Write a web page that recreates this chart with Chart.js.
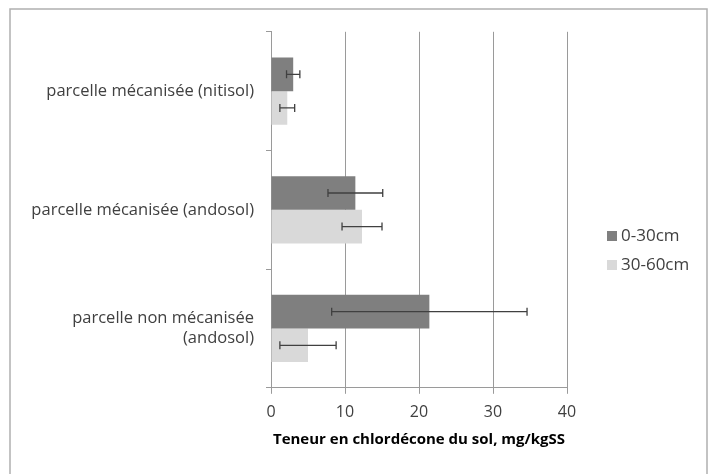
<!DOCTYPE html>
<html>
<head>
<meta charset="utf-8">
<script src="https://cdn.jsdelivr.net/npm/chart.js@4.4.0/dist/chart.umd.min.js"></script>
<style>
html,body{margin:0;padding:0;background:#fff;}
#wrap{position:absolute;left:0;top:0;width:708px;height:474px;}
</style>
</head>
<body>
<div id="wrap"><canvas id="c" width="708" height="474"></canvas></div>
<script>
const categories = ["parcelle mécanisée (nitisol)", "parcelle mécanisée (andosol)", ["parcelle non mécanisée", "(andosol)"]];
const seriesNames = ["0-30cm", "30-60cm"];
const values0_30 = [3.0, 11.4, 21.4];
const values30_60 = [2.2, 12.3, 5.0];
const errors0_30 = [0.9, 3.7, 13.2];
const errors30_60 = [1.0, 2.7, 3.8];
const xTicks = [0, 10, 20, 30, 40];
const xTitle = "Teneur en chlordécone du sol, mg/kgSS";

const errorBars = {
  id: 'errorBars',
  afterDatasetsDraw(chart) {
    const ctx = chart.ctx;
    const xs = chart.scales.x;
    ctx.save();
    ctx.strokeStyle = '#404040';
    ctx.lineWidth = 1.3;
    chart.data.datasets.forEach((ds, i) => {
      const meta = chart.getDatasetMeta(i);
      meta.data.forEach((el, j) => {
        const v = ds.data[j], e = ds.errors[j];
        const x1 = xs.getPixelForValue(v - e), x2 = xs.getPixelForValue(v + e);
        const y = el.y;
        ctx.beginPath();
        ctx.moveTo(x1, y); ctx.lineTo(x2, y);
        ctx.moveTo(x1, y - 4); ctx.lineTo(x1, y + 4);
        ctx.moveTo(x2, y - 4); ctx.lineTo(x2, y + 4);
        ctx.stroke();
      });
    });
    ctx.restore();
  }
};

const customLegend = {
  id: 'customLegend',
  afterDraw(chart) {
    const ctx = chart.ctx;
    ctx.save();
    ctx.font = '17px "Open Sans"';
    ctx.textBaseline = 'middle';
    const ys = [236, 265];
    chart.data.datasets.forEach((ds, i) => {
      ctx.fillStyle = ds.backgroundColor;
      ctx.fillRect(607, ys[i] - 5, 10, 10);
      ctx.fillStyle = '#404040';
      ctx.fillText(ds.label, 621, ys[i]);
    });
    // frame
    ctx.strokeStyle = '#b0b0b0';
    ctx.lineWidth = 1.5;
    ctx.beginPath();
    ctx.moveTo(10, 474); ctx.lineTo(10, 9); ctx.lineTo(707, 9); ctx.lineTo(707, 474);
    ctx.stroke();
    ctx.restore();
  }
};

new Chart(document.getElementById('c'), {
  type: 'bar',
  data: {
    labels: categories,
    datasets: [
      { label: seriesNames[0], data: values0_30, errors: errors0_30, backgroundColor: '#7f7f7f' },
      { label: seriesNames[1], data: values30_60, errors: errors30_60, backgroundColor: '#d9d9d9' }
    ]
  },
  options: {
    indexAxis: 'y',
    responsive: false,
    animation: false,
    devicePixelRatio: 1,
    layout: { padding: { left: 12, right: 141, top: 30, bottom: 25 } },
    datasets: { bar: { categoryPercentage: 0.567, barPercentage: 1.0 } },
    plugins: { legend: { display: false }, tooltip: { enabled: false } },
    scales: {
      x: {
        min: 0, max: 40,
        afterBuildTicks(s) { s.ticks = xTicks.map(v => ({ value: v })); },
        grid: { color: '#9a9a9a', lineWidth: 1, tickLength: 6, drawTicks: true },
        border: { color: '#9a9a9a' },
        ticks: { color: '#404040', font: { family: 'Open Sans', size: 16 }, padding: 9 },
        title: { display: true, text: xTitle, color: '#000', font: { family: 'Open Sans', size: 15, weight: 'bold' }, padding: { top: 0, bottom: 0 } }
      },
      y: {
        afterFit(s) { s.width = 259; },
        grid: { drawOnChartArea: false, offset: true, tickLength: 5, color: '#9a9a9a' },
        border: { color: '#9a9a9a' },
        ticks: { color: '#404040', font: { family: 'Open Sans', size: 16.5 }, padding: 12 }
      }
    }
  },
  plugins: [errorBars, customLegend]
});
</script>
</body>
</html>
